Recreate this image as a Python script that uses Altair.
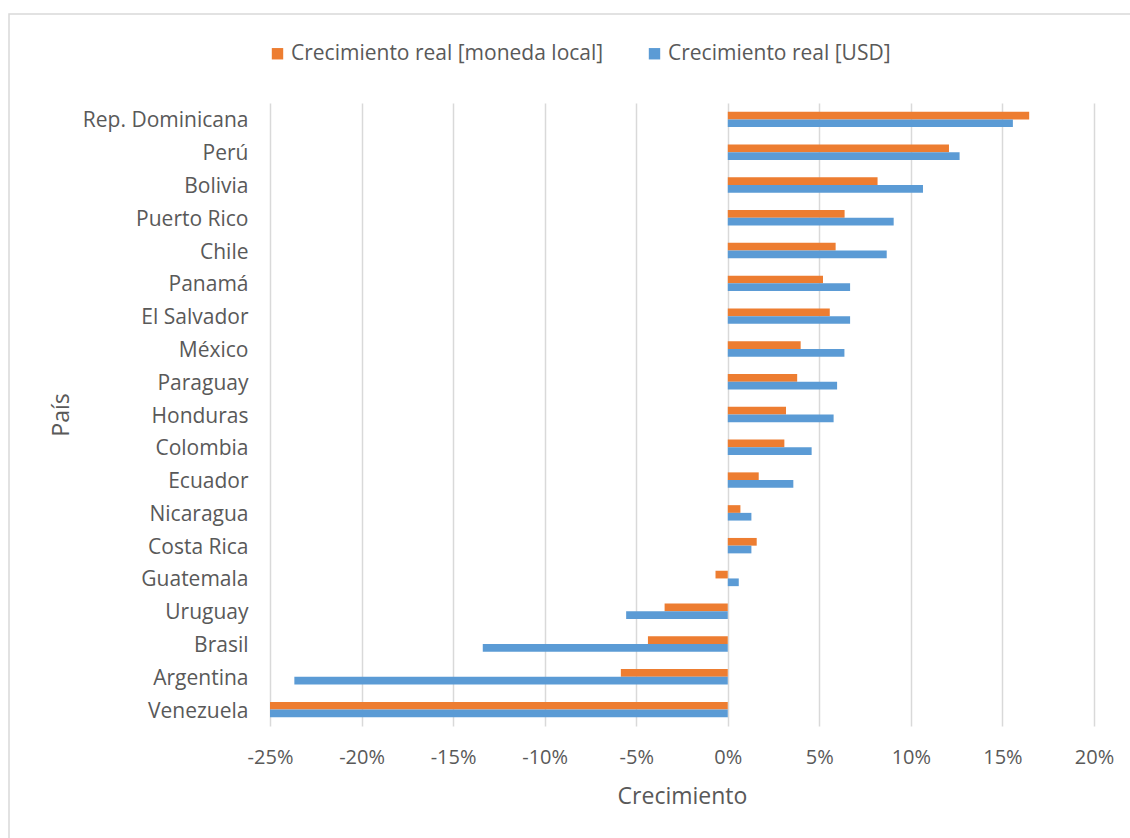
import altair as alt
import pandas as pd

countries = ["Rep. Dominicana", "Perú", "Bolivia", "Puerto Rico", "Chile", "Panamá",
             "El Salvador", "México", "Paraguay", "Honduras", "Colombia", "Ecuador",
             "Nicaragua", "Costa Rica", "Guatemala", "Uruguay", "Brasil", "Argentina",
             "Venezuela"]
local_growth = [16.46, 12.08, 8.18, 6.38, 5.89, 5.20, 5.57, 3.98, 3.79, 3.18, 3.09, 1.69,
                0.69, 1.58, -0.67, -3.45, -4.36, -5.84, -25.0]
usd_growth = [15.57, 12.66, 10.66, 9.06, 8.68, 6.68, 6.68, 6.37, 5.97, 5.78, 4.58, 3.58,
              1.29, 1.29, 0.60, -5.55, -13.38, -23.67, -25.0]
series = ["Crecimiento real [moneda local]", "Crecimiento real [USD]"]
colors = ["#ED7D31", "#5B9BD5"]
x_ticks = [-25, -20, -15, -10, -5, 0, 5, 10, 15, 20]

rows = []
for c, a, b in zip(countries, local_growth, usd_growth):
    rows.append({"País": c, "Serie": series[0], "Crecimiento": a})
    rows.append({"País": c, "Serie": series[1], "Crecimiento": b})
df = pd.DataFrame(rows)

FONT = "Open Sans"
TXT = "#595959"

bars = alt.Chart(df).mark_bar(clip=True).encode(
    x=alt.X("Crecimiento:Q",
            scale=alt.Scale(domain=[-25, 20], nice=False, zero=False),
            axis=alt.Axis(values=x_ticks, labelExpr="datum.value + '%'",
                          title="Crecimiento", grid=True, gridColor="#d9d9d9",
                          gridWidth=1.5, domain=False, ticks=False, labelFlush=False,
                          labelFontSize=20, labelPadding=21, titlePadding=18)),
    y=alt.Y("País:N", sort=countries,
            scale=alt.Scale(paddingInner=0.53, paddingOuter=0.265),
            axis=alt.Axis(title="País", domain=False, ticks=False, grid=False,
                          labelFontSize=21, labelPadding=22, titlePadding=9,
                          labelOffset=2)),
    yOffset=alt.YOffset("Serie:N", sort=series),
    color=alt.Color("Serie:N", sort=series,
                    scale=alt.Scale(domain=series, range=colors),
                    legend=alt.Legend(title=None, orient="none", direction="horizontal",
                                      legendX=-3, legendY=-60, symbolType="square",
                                      symbolSize=130, symbolStrokeWidth=0,
                                      columnPadding=40, labelOffset=3, labelLimit=0)),
)

frame = alt.Chart(pd.DataFrame({"k": [0]})).mark_rect(
    fill=None, stroke="#d9d9d9", strokeWidth=1.5, clip=False
).encode(
    x=alt.value(-261), x2=alt.value(900), y=alt.value(-89), y2=alt.value(760)
)

chart = alt.layer(frame, bars).properties(
    width=824, height=623,
    autosize=alt.AutoSizeParams(type="none"),
    padding={"left": 270, "top": 103, "right": 36, "bottom": 112},
).configure_view(stroke=None).configure_axis(
    labelFont=FONT, titleFont=FONT, labelColor=TXT, titleColor=TXT,
    titleFontSize=23, titleFontWeight="normal",
).configure_legend(
    labelFont=FONT, labelColor=TXT, labelFontSize=21
)

chart.save("out.html", embed_options={"renderer": "svg", "actions": False})
